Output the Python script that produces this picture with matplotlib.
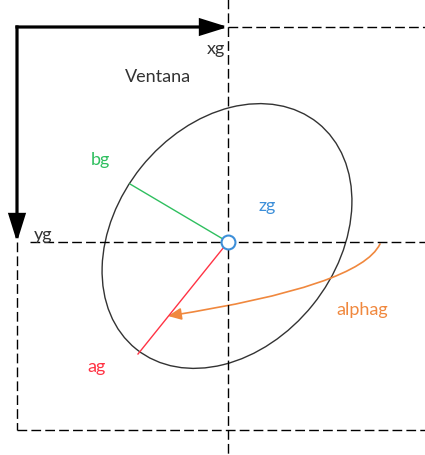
import matplotlib
matplotlib.use("Agg")
import matplotlib.pyplot as plt
from matplotlib.patches import Ellipse, FancyArrowPatch
from matplotlib.path import Path

plt.rcParams['font.family'] = ['Lato', 'DejaVu Sans']

# --- diagram geometry (pixel space, y grows downward) ---
origin = (17, 28)            # window origin (top-left corner)
center = (228, 243)          # centre of gravity
win_right, win_bottom = 425, 431

ellipse_center = (227, 237)
ellipse_axes = (290, 220)    # full major / minor axis lengths
ellipse_angle = 128.8        # degrees

ag_end = (138, 355)          # end of semi-major axis
bg_end = (130, 185)          # end of semi-minor axis

alpha_path = [(380, 245), (360, 287), (168, 317)]

labels = ['xg', 'Ventana', 'yg', 'bg', 'zg', 'alphag', 'ag']
label_pos = [(216, 49), (158, 77), (43, 235), (100, 160), (267, 206), (362, 310), (97, 367)]
label_col = ['#333333', '#333333', '#333333', '#2fbf5f', '#3d8fd9', '#f0883e', '#ff3344']

fig = plt.figure(figsize=(4.25, 4.56), dpi=100)
ax = fig.add_axes([0, 0, 1, 1])
ax.set_xlim(0, 425)
ax.set_ylim(456, 0)
ax.axis('off')

dash = dict(color='black', lw=1.0, linestyle=(0, (7, 3)))
ax.plot([center[0], center[0]], [0, 456], **dash)
ax.plot([center[0], win_right], [origin[1], origin[1]], **dash)
ax.plot([30, win_right], [center[1], center[1]], **dash)
ax.plot([origin[0], origin[0]], [center[1], win_bottom], **dash)
ax.plot([origin[0], win_right], [win_bottom, win_bottom], **dash)

# thick axes arrows
for end in [(center[0], origin[1]), (origin[0], center[1])]:
    ax.add_patch(FancyArrowPatch(origin, end, arrowstyle='-|>,head_length=1.6,head_width=0.5',
                                 mutation_scale=10, lw=2.3, color='black',
                                 shrinkA=0, shrinkB=0, joinstyle='miter', capstyle='projecting'))

ax.add_patch(Ellipse(ellipse_center, ellipse_axes[0], ellipse_axes[1], angle=ellipse_angle,
                     fill=False, ec='#333333', lw=1.0))

ax.plot([center[0], ag_end[0]], [center[1], ag_end[1]], color='#ff3344', lw=1.0)
ax.plot([center[0], bg_end[0]], [center[1], bg_end[1]], color='#2fbf5f', lw=1.0)

arc = Path(alpha_path, [Path.MOVETO, Path.CURVE3, Path.CURVE3])
ax.add_patch(FancyArrowPatch(path=arc, arrowstyle='-|>,head_length=1.0,head_width=0.45',
                             mutation_scale=8, lw=1.2, color='#f0883e'))

ax.plot(*center, 'o', ms=10, mfc='white', mec='#3d8fd9', mew=1.5, zorder=5)

for txt, (x, y), c in zip(labels, label_pos, label_col):
    ax.text(x, y, txt, color=c, fontsize=13, ha='center', va='center')

fig.savefig('out.png', dpi=100)
